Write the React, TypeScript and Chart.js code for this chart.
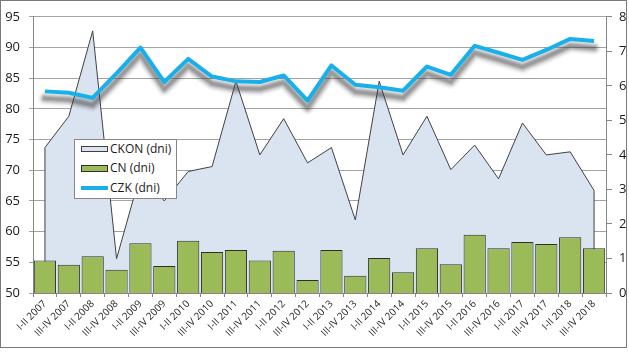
import React, { useEffect, useRef } from "react";
import { Chart, registerables } from "chart.js";

Chart.register(...registerables);

const categories = [
  "I-II 2007", "III-IV 2007", "I-II 2008", "III-IV 2008", "I-II 2009", "III-IV 2009",
  "I-II 2010", "III-IV 2010", "I-II 2011", "III-IV 2011", "I-II 2012", "III-IV 2012",
  "I-II 2013", "III-IV 2013", "I-II 2014", "III-IV 2014", "I-II 2015", "III-IV 2015",
  "I-II 2016", "III-IV 2016", "I-II 2017", "III-IV 2017", "I-II 2018", "III-IV 2018",
];

const ckon = [73.7, 78.8, 92.7, 55.6, 69.4, 65.0, 69.8, 70.6, 84.5, 72.5, 78.4, 71.2,
  73.7, 61.9, 84.5, 72.5, 78.8, 70.1, 74.1, 68.6, 77.7, 72.5, 73.0, 66.7];

const cn = [55.3, 54.6, 56.0, 53.8, 58.1, 54.4, 58.5, 56.7, 57.0, 55.3, 56.9, 52.1,
  57.0, 52.8, 55.7, 53.4, 57.3, 54.7, 59.5, 57.3, 58.3, 58.0, 59.1, 57.3];

const czk = [5.84, 5.8, 5.65, 6.36, 7.11, 6.11, 6.78, 6.27, 6.13, 6.11, 6.3, 5.57,
  6.59, 6.03, 5.96, 5.86, 6.56, 6.32, 7.16, 6.96, 6.75, 7.04, 7.36, 7.3];

const leftTicks = { min: 50, max: 95, step: 5 };
const rightTicks = { min: 0, max: 8, step: 1 };

const seriesNames = ["CKON (dni)", "CN (dni)", "CZK (dni)"];

const AREA_FILL = "#dae3f0";
const AREA_LINE = "#404040";
const BAR_FILL = "#9bbb59";
const BAR_LINE = "#2e2e2e";
const LINE_COLOR = "#18b0ea";
const FONT = "'Open Sans', 'DejaVu Sans', sans-serif";

const shadowLayers = [
  { w: 14, a: 0.05 },
  { w: 11, a: 0.07 },
  { w: 9, a: 0.09 },
  { w: 7, a: 0.12 },
  { w: 5, a: 0.15 },
  { w: 3, a: 0.18 },
];

function drawShadow(chart: any) {
  const meta = chart.getDatasetMeta(2);
  const pts = meta && meta.data;
  if (!pts || !pts.length) return;
  const ctx = chart.ctx;
  ctx.save();
  ctx.lineJoin = "round";
  ctx.lineCap = "round";
  shadowLayers.forEach((l) => {
    ctx.strokeStyle = `rgba(60,60,60,${l.a})`;
    ctx.lineWidth = l.w;
    ctx.beginPath();
    pts.forEach((p: any, i: number) => {
      if (i === 0) ctx.moveTo(p.x, p.y + 7);
      else ctx.lineTo(p.x, p.y + 7);
    });
    ctx.stroke();
  });
  ctx.restore();
}

const effectsPlugin = {
  id: "effects",
  afterDatasetDraw(chart: any, args: any) {
    const ctx = chart.ctx;
    if (args.meta.type === "bar") {
      drawShadow(chart);
    }
    if (args.index === 0) {
      const pts = args.meta.data;
      if (!pts.length) return;
      const bottom = chart.chartArea.bottom;
      ctx.save();
      ctx.strokeStyle = AREA_LINE;
      ctx.lineWidth = 1;
      ctx.beginPath();
      const a = pts[0];
      const b = pts[pts.length - 1];
      ctx.moveTo(a.x, a.y);
      ctx.lineTo(a.x, bottom);
      ctx.moveTo(b.x, b.y);
      ctx.lineTo(b.x, bottom);
      ctx.stroke();
      ctx.restore();
    }
  },
};

export default function App() {
  const ref = useRef<HTMLCanvasElement | null>(null);

  useEffect(() => {
    if (!ref.current) return;
    const chart = new Chart(ref.current, {
      type: "bar",
      data: {
        labels: categories,
        datasets: [
          {
            type: "line",
            label: seriesNames[0],
            data: ckon,
            yAxisID: "y",
            fill: "start",
            backgroundColor: AREA_FILL,
            borderColor: AREA_LINE,
            borderWidth: 1,
            pointRadius: 0,
            tension: 0,
            order: 3,
          } as any,
          {
            type: "bar",
            label: seriesNames[1],
            data: cn,
            yAxisID: "y",
            backgroundColor: BAR_FILL,
            borderColor: BAR_LINE,
            borderWidth: 1,
            barPercentage: 0.93,
            categoryPercentage: 1,
            order: 2,
          } as any,
          {
            type: "line",
            label: seriesNames[2],
            data: czk,
            yAxisID: "y1",
            fill: false,
            borderColor: LINE_COLOR,
            borderWidth: 4,
            borderJoinStyle: "round",
            pointRadius: 0,
            tension: 0,
            order: 1,
          } as any,
        ],
      },
      options: {
        responsive: false,
        animation: false,
        devicePixelRatio: 1,
        layout: { padding: { left: 0, right: 1, top: 15, bottom: 0 } },
        plugins: {
          legend: { display: false },
          tooltip: { enabled: false },
        },
        scales: {
          x: {
            offset: true,
            grid: {
              offset: true,
              drawOnChartArea: false,
              drawTicks: true,
              tickLength: 4,
              color: "#868686",
            },
            border: { color: "#868686" },
            ticks: {
              autoSkip: false,
              maxRotation: 45,
              minRotation: 45,
              padding: 1,
              color: "#262626",
              font: { family: FONT, size: 10 },
            },
            afterFit: (s: any) => {
              s.height = 61;
            },
          },
          y: {
            position: "left",
            min: leftTicks.min,
            max: leftTicks.max,
            ticks: {
              stepSize: leftTicks.step,
              padding: 9,
              color: "#1a1a1a",
              font: { family: FONT, size: 13 },
            },
            grid: { color: "#a3a3a3", tickLength: 4, drawTicks: true },
            border: { color: "#868686" },
            afterFit: (s: any) => {
              s.width = 33;
            },
          },
          y1: {
            position: "right",
            min: rightTicks.min,
            max: rightTicks.max,
            ticks: {
              stepSize: rightTicks.step,
              padding: 7,
              color: "#1a1a1a",
              font: { family: FONT, size: 13 },
            },
            grid: { drawOnChartArea: false, tickLength: 6, color: "#868686" },
            border: { color: "#868686" },
            afterFit: (s: any) => {
              s.width = 22;
            },
          },
        },
      } as any,
      plugins: [effectsPlugin],
    });
    return () => chart.destroy();
  }, []);

  const rowText: React.CSSProperties = {
    position: "absolute",
    left: 35,
    fontFamily: FONT,
    fontSize: 12,
    lineHeight: "16px",
    color: "#1a1a1a",
    whiteSpace: "nowrap",
  };

  return (
    <div style={{ position: "absolute", left: 0, top: 0, width: 629, height: 354, background: "#fff" }}>
      <canvas ref={ref} width={629} height={354} style={{ display: "block", width: 629, height: 354 }} />
      <div
        style={{
          position: "absolute",
          left: 0,
          top: 0,
          width: 627,
          height: 348,
          border: "1px solid #7a7a7a",
          boxSizing: "border-box",
          pointerEvents: "none",
        }}
      />
      <div
        style={{
          position: "absolute",
          left: 74,
          top: 139,
          width: 103,
          height: 60,
          border: "1px solid #868686",
          boxSizing: "border-box",
          background: "#fff",
        }}
      >
        <div style={{ position: "absolute", left: 6, top: 6, width: 27, height: 6, background: AREA_FILL, border: `1px solid ${AREA_LINE}`, boxSizing: "border-box" }} />
        <div style={{ ...rowText, top: 1 }}>{seriesNames[0]}</div>
        <div style={{ position: "absolute", left: 6, top: 25, width: 27, height: 7, background: BAR_FILL, border: `1px solid ${BAR_LINE}`, boxSizing: "border-box" }} />
        <div style={{ ...rowText, top: 20 }}>{seriesNames[1]}</div>
        <div style={{ position: "absolute", left: 6, top: 46, width: 27, height: 4, background: LINE_COLOR }} />
        <div style={{ ...rowText, top: 40 }}>{seriesNames[2]}</div>
      </div>
    </div>
  );
}
